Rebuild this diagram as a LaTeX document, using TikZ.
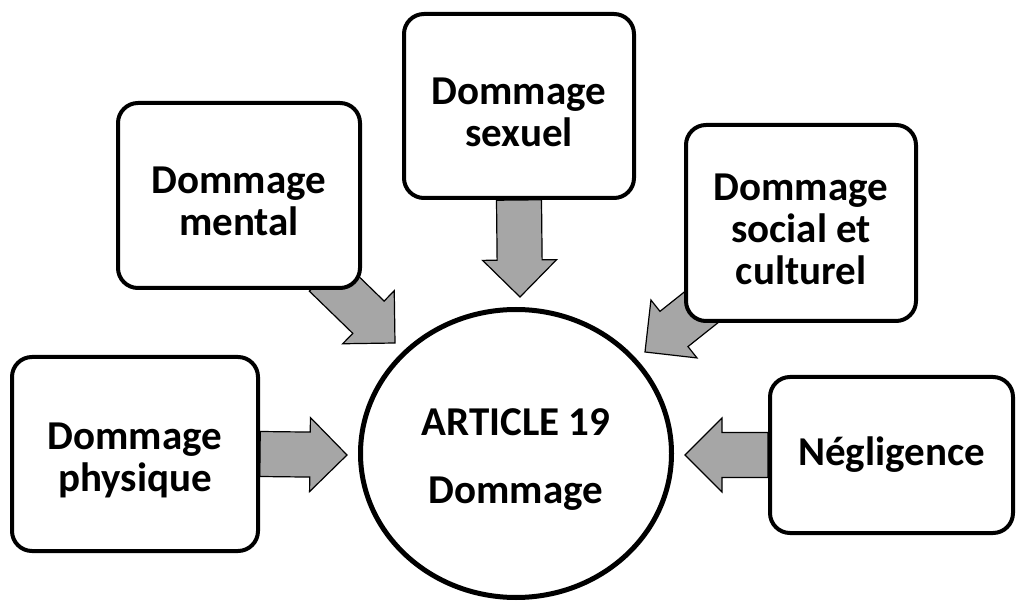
\documentclass[tikz,border=0pt]{standalone}
\usepackage{fontspec}
\setmainfont{Carlito}
\usetikzlibrary{calc,backgrounds,shapes.geometric}
\definecolor{arrowgray}{RGB}{166,166,166}
\newcommand\blockarr[2]{%
  \path (#1) coordinate (bt) (#2) coordinate (bh);
  \path ($(bh)!37pt!(bt)$) coordinate (bb);
  \draw[blockarrow] ($(bt)!22.5pt!90:(bh)$) -- ($(bb)!22.5pt!-90:(bt)$) -- ($(bb)!37pt!-90:(bt)$) -- (bh)
    -- ($(bb)!37pt!90:(bt)$) -- ($(bb)!22.5pt!90:(bt)$) -- ($(bt)!22.5pt!-90:(bh)$) -- cycle;}
\newcommand\topstrut{\rule{0pt}{39pt}}
\tikzset{
  box/.style={draw, line width=4pt, rounded corners=20pt, fill=white, align=center,
    inner sep=0pt, font=\fontsize{41}{42}\selectfont\bfseries},
  hub/.style={draw, ellipse, line width=5pt, fill=white, align=center, inner sep=0pt,
    font=\fontsize{41}{42}\selectfont\bfseries},
  blockarrow/.style={draw=black, line width=1.2pt, fill=arrowgray, line join=miter}
}
\begin{document}
\begin{tikzpicture}[x=1pt,y=-1pt]
\useasboundingbox (0,0) rectangle (1020,601);
\node[hub, minimum width=311pt, minimum height=288pt] (c) at (516,453.5) {\topstrut ARTICLE 19\\[26pt]Dommage};
\node[box, minimum width=246pt, minimum height=194pt] (phys) at (135,454) {\topstrut Dommage\\physique};
\node[box, minimum width=242pt, minimum height=185pt] (ment) at (239,195.5) {\topstrut Dommage\\mental};
\node[box, minimum width=230pt, minimum height=184pt] (sex) at (519,106) {\topstrut Dommage\\sexuel};
\node[box, minimum width=230pt, minimum height=196pt] (soc) at (801,223) {\topstrut Dommage\\social et\\culturel};
\node[box, minimum width=243pt, minimum height=156pt] (neg) at (891.5,455) {Négligence};
\coordinate (tphys) at (347,455);
\coordinate (tneg) at (685,455);
\coordinate (tsex) at (520,297);
\coordinate (tment) at (395,343);
\coordinate (tsoc) at (645,352);
\coordinate (ament) at (325,275);
\coordinate (asoc) at (723,290);
\begin{pgfonlayer}{background}
\blockarr{phys.east}{tphys}
\blockarr{neg.west}{tneg}
\blockarr{sex.south}{tsex}
\blockarr{ament}{tment}
\blockarr{asoc}{tsoc}
\end{pgfonlayer}
\end{tikzpicture}
\end{document}
